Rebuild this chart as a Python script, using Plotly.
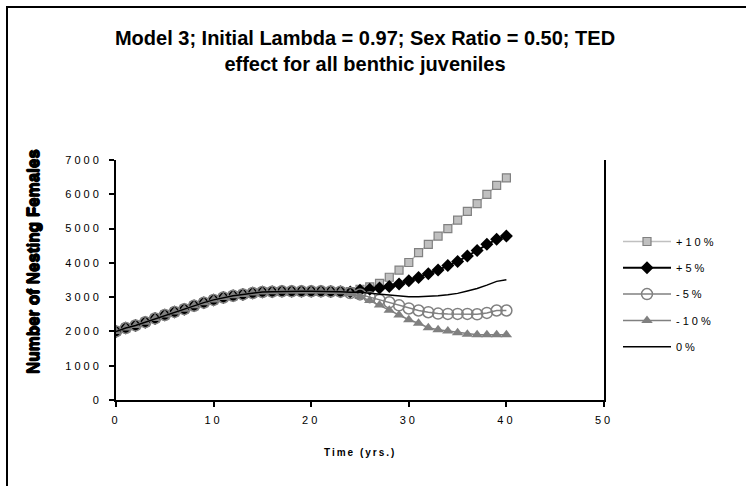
import plotly.graph_objects as go

years = list(range(41))

plus10 = [2000, 2100, 2175, 2270, 2380, 2480, 2570, 2650, 2750, 2840, 2920, 2990, 3040, 3080, 3120, 3150,
          3160, 3170, 3170, 3170, 3170, 3170, 3165, 3160, 3160, 3230, 3300, 3400, 3580, 3790, 4010, 4300,
          4540, 4780, 5000, 5245, 5500, 5730, 6000, 6260, 6480]
plus5 = [2000, 2100, 2175, 2270, 2380, 2480, 2570, 2650, 2750, 2840, 2920, 2990, 3040, 3080, 3120, 3150,
         3160, 3170, 3170, 3170, 3170, 3170, 3165, 3160, 3150, 3200, 3230, 3270, 3310, 3380, 3480, 3570,
         3680, 3790, 3920, 4040, 4200, 4360, 4540, 4690, 4780]
minus5 = [2000, 2100, 2175, 2270, 2380, 2480, 2570, 2650, 2750, 2840, 2920, 2990, 3040, 3080, 3120, 3150,
          3160, 3170, 3170, 3170, 3170, 3170, 3165, 3160, 3120, 3080, 3000, 2920, 2850, 2760, 2670, 2610,
          2560, 2520, 2510, 2510, 2510, 2500, 2540, 2610, 2610]
minus10 = [2000, 2100, 2175, 2270, 2380, 2480, 2570, 2650, 2750, 2840, 2920, 2990, 3040, 3080, 3120, 3150,
           3160, 3170, 3170, 3170, 3170, 3170, 3165, 3160, 3100, 3020, 2900, 2770, 2620, 2480, 2340, 2240,
           2110, 2050, 2010, 1960, 1920, 1900, 1900, 1900, 1900]
zero = [2000, 2100, 2175, 2270, 2380, 2480, 2570, 2650, 2750, 2840, 2920, 2990, 3040, 3080, 3120, 3150,
        3160, 3170, 3170, 3170, 3170, 3170, 3165, 3160, 3140, 3150, 3110, 3080, 3060, 3040, 3010, 3010,
        3020, 3040, 3070, 3110, 3180, 3250, 3350, 3460, 3510]

series_names = ["+10%", "+5%", "-5%", "-10%", "0%"]
x_ticks = [0, 10, 20, 30, 40, 50]
y_ticks = [0, 1000, 2000, 3000, 4000, 5000, 6000, 7000]

title_text = "Model 3; Initial Lambda = 0.97; Sex Ratio = 0.50; TED<br>effect for all benthic juveniles"
x_title = "Time (yrs.)"
y_title = "Number of Nesting Females"

FONT = "Liberation Sans, Arial, sans-serif"

# pixel layout of the plot area
L, R, T, B = 116, 604, 160, 400
W, H = R - L, B - T

fig = go.Figure()
fig.add_trace(go.Scatter(x=years, y=plus10, name=series_names[0], mode="lines+markers", legendgroup="a",
                         line=dict(color="#c0c0c0", width=1.5),
                         marker=dict(symbol="square", size=8, color="#c0c0c0", line=dict(color="#808080", width=1.2))))
fig.add_trace(go.Scatter(x=years, y=plus5, name=series_names[1], mode="lines+markers", legendgroup="b",
                         line=dict(color="#000000", width=2),
                         marker=dict(symbol="diamond", size=10, color="#000000")))
fig.add_trace(go.Scatter(x=years, y=minus5, name=series_names[2], mode="lines+markers", legendgroup="c",
                         line=dict(color="#808080", width=1.5),
                         marker=dict(symbol="circle-open", size=11, color="#808080", line=dict(width=1.5))))
fig.add_trace(go.Scatter(x=years, y=minus10, name=series_names[3], mode="lines+markers", legendgroup="d",
                         line=dict(color="#808080", width=1.5),
                         marker=dict(symbol="triangle-up", size=10, color="#808080")))
fig.add_trace(go.Scatter(x=years, y=zero, name=series_names[4], mode="lines", legendgroup="e",
                         line=dict(color="#000000", width=1.5)))

fig.update_layout(
    width=746, height=486,
    margin=dict(l=L, r=746 - R, t=T, b=486 - B, pad=0),
    paper_bgcolor="white", plot_bgcolor="white",
    font=dict(family=FONT, color="black", size=11),
    title=dict(text=title_text, x=365 / 746, xanchor="center", xref="container",
               y=1 - 45 / 486, yanchor="top", yref="container",
               font=dict(family=FONT, size=20, color="black", weight="bold")),
    showlegend=True,
    legend=dict(x=(618 - L) / W, xanchor="left", y=(B - 227) / H, yanchor="top",
                font=dict(family=FONT, size=11, color="black"), tracegroupgap=7.3, itemwidth=48,
                bgcolor="rgba(0,0,0,0)", borderwidth=0),
    xaxis=dict(range=[0, 50], tickvals=x_ticks, ticktext=[str(v) for v in x_ticks],
               showgrid=False, zeroline=False, showline=True, linecolor="black", linewidth=2,
               ticks="outside", ticklen=5, tickwidth=1.5, tickcolor="black",
               tickfont=dict(family=FONT, size=11, color="black"), ticklabelstandoff=4),
    yaxis=dict(range=[0, 7000], tickvals=y_ticks, ticktext=[str(v) for v in y_ticks],
               showgrid=False, zeroline=False, showline=True, linecolor="black", linewidth=2, mirror=True,
               ticks="outside", ticklen=5, tickwidth=1.5, tickcolor="black",
               tickfont=dict(family=FONT, size=11, color="black"), ticklabelstandoff=5),
    annotations=[
        dict(text=x_title, xref="paper", yref="paper", x=0.5, y=(B - 452) / H,
             xanchor="center", yanchor="middle", showarrow=False,
             font=dict(family=FONT, size=10, color="black", weight="bold")),
        dict(text=y_title, xref="paper", yref="paper", x=(33 - L) / W, y=(B - 262) / H, textangle=-90,
             xanchor="center", yanchor="middle", showarrow=False,
             font=dict(family=FONT, size=17, color="black", weight="bold",
                       shadow="0.6px 0 0 black, -0.6px 0 0 black, 0 0.6px 0 black, 0 -0.6px 0 black")),
    ],
    shapes=[
        dict(type="line", xref="paper", yref="paper",
             x0=(7 - L) / W, x1=(770 - L) / W, y0=(B - 7) / H, y1=(B - 7) / H,
             line=dict(color="black", width=2), layer="above"),
        dict(type="line", xref="paper", yref="paper",
             x0=(7 - L) / W, x1=(7 - L) / W, y0=(B - 510) / H, y1=(B - 6) / H,
             line=dict(color="black", width=2), layer="above"),
    ],
)

post = """
document.body.style.margin = '0';
var gd = document.getElementById('{plot_id}');
function spacing() {
  gd.querySelectorAll('.xtick text, .ytick text, .legendtext').forEach(function (t) {
    t.style.letterSpacing = '3px';
  });
  gd.querySelectorAll('.annotation-text').forEach(function (t) {
    if (t.textContent.indexOf('Time') === 0) { t.style.letterSpacing = '2px'; }
  });
  gd.querySelectorAll('.legend .scrollbox').forEach(function (e) { e.removeAttribute('clip-path'); });
}
spacing();
if (gd.on) { gd.on('plotly_afterplot', spacing); }
"""

fig.write_html("out.html", post_script=post, config={"displayModeBar": False})
